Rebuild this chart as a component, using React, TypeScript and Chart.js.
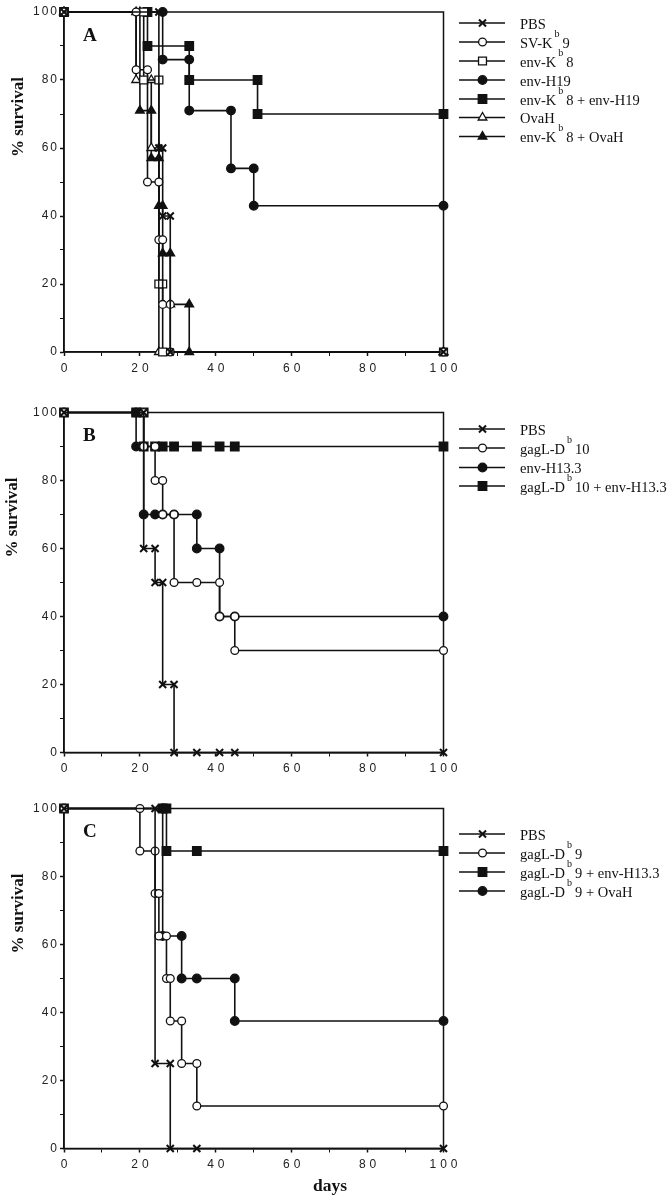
import React, { useEffect, useRef } from "react";
import { Chart, registerables } from "chart.js";

Chart.register(...registerables);

type Pt = [number, number];

// ---------- Panel A (days, % survival) ----------
const A_PBS: Pt[] = [[0, 100], [25, 100], [25, 60], [26, 60], [26, 40], [28, 40], [28, 0], [100, 0]];
const A_SVKB9: Pt[] = [[0, 100], [19, 100], [19, 83], [22, 83], [22, 50], [25, 50], [25, 33], [26, 33], [26, 14], [28, 14], [28, 0], [100, 0]];
const A_ENVKB8: Pt[] = [[0, 100], [21, 100], [21, 80], [25, 80], [25, 20], [26, 20], [26, 0], [100, 0]];
const A_ENVH19: Pt[] = [[0, 100], [26, 100], [26, 86], [33, 86], [33, 71], [44, 71], [44, 54], [50, 54], [50, 43], [100, 43]];
const A_ENVKB8_ENVH19: Pt[] = [[0, 100], [22, 100], [22, 90], [33, 90], [33, 80], [51, 80], [51, 70], [100, 70]];
const A_OVAH: Pt[] = [[0, 100], [19, 100], [19, 80], [23, 80], [23, 60], [25, 60], [25, 0], [100, 0]];
const A_ENVKB8_OVAH: Pt[] = [[0, 100], [20, 100], [20, 71], [23, 71], [23, 57], [25, 57], [25, 43], [26, 43], [26, 29], [28, 29], [28, 14], [33, 14], [33, 0], [100, 0]];
const A_LABELS = ["PBS", "SV-K^b9", "env-K^b8", "env-H19", "env-K^b8 + env-H19", "OvaH", "env-K^b8 + OvaH"];

// ---------- Panel B ----------
const B_PBS: Pt[] = [[0, 100], [21, 100], [21, 60], [24, 60], [24, 50], [26, 50], [26, 20], [29, 20], [29, 0], [35, 0], [41, 0], [45, 0], [100, 0]];
const B_GAGLDB10: Pt[] = [[0, 100], [21, 100], [21, 90], [24, 90], [24, 80], [26, 80], [26, 70], [29, 70], [29, 50], [35, 50], [41, 50], [41, 40], [45, 40], [45, 30], [100, 30]];
const B_ENVH133: Pt[] = [[0, 100], [19, 100], [19, 90], [21, 90], [21, 70], [24, 70], [26, 70], [29, 70], [35, 70], [35, 60], [41, 60], [41, 40], [45, 40], [100, 40]];
const B_GAGLDB10_ENVH133: Pt[] = [[0, 100], [19, 100], [21, 100], [21, 90], [24, 90], [26, 90], [29, 90], [35, 90], [41, 90], [45, 90], [100, 90]];
const B_LABELS = ["PBS", "gagL-D^b10", "env-H13.3", "gagL-D^b10 + env-H13.3"];

// ---------- Panel C ----------
const C_PBS: Pt[] = [[0, 100], [24, 100], [24, 25], [28, 25], [28, 0], [35, 0], [100, 0]];
const C_GAGLDB9: Pt[] = [[0, 100], [20, 100], [20, 87.5], [24, 87.5], [24, 75], [25, 75], [25, 62.5], [27, 62.5], [27, 50], [28, 50], [28, 37.5], [31, 37.5], [31, 25], [35, 25], [35, 12.5], [100, 12.5]];
const C_GAGLDB9_ENVH133: Pt[] = [[0, 100], [26, 100], [27, 100], [27, 87.5], [35, 87.5], [100, 87.5]];
const C_GAGLDB9_OVAH: Pt[] = [[0, 100], [26, 100], [26, 62.5], [31, 62.5], [31, 50], [35, 50], [45, 50], [45, 37.5], [100, 37.5]];
const C_LABELS = ["PBS", "gagL-D^b9", "gagL-D^b9 + env-H13.3", "gagL-D^b9 + OvaH"];

// ---------- Axes ----------
const AXIS_MIN = 0;
const AXIS_MAX = 100;
const TICK_STEP = 10;
const LABEL_STEP = 20;

const INK = "#111";

type MarkKey = "x" | "oc" | "os" | "fc" | "fs" | "ot" | "ft";
const MARK: Record<MarkKey, { style: any; r: number; fill: string }> = {
  x: { style: "crossRot", r: 5, fill: INK },
  oc: { style: "circle", r: 3.9, fill: "#fff" },
  os: { style: "rect", r: 5.6, fill: "#fff" },
  fc: { style: "circle", r: 4.3, fill: INK },
  fs: { style: "rect", r: 6, fill: INK },
  ot: { style: "triangle", r: 5, fill: "#fff" },
  ft: { style: "triangle", r: 5, fill: INK },
};

interface PanelCfg {
  top: number; // canvas top on page
  height: number; // canvas height
  plotTop: number; // chart-area top on page
  letter: string;
  titleX: number;
  series: Pt[][];
  labels: string[];
  marks: MarkKey[];
  legendRows: number[]; // page y
  showDays: boolean;
}

const PLOT_LEFT = 64;
const PLOT_RIGHT = 443.5;
const PLOT_H = 340;

const PANELS: PanelCfg[] = [
  {
    top: 0, height: 390, plotTop: 12, letter: "A", titleX: 18.5,
    series: [A_PBS, A_SVKB9, A_ENVKB8, A_ENVH19, A_ENVKB8_ENVH19, A_OVAH, A_ENVKB8_OVAH],
    labels: A_LABELS, marks: ["x", "oc", "os", "fc", "fs", "ot", "ft"],
    legendRows: [23, 42, 61, 80, 99, 117.5, 136.5], showDays: false,
  },
  {
    top: 390, height: 400, plotTop: 412.5, letter: "B", titleX: 13,
    series: [B_PBS, B_GAGLDB10, B_ENVH133, B_GAGLDB10_ENVH133],
    labels: B_LABELS, marks: ["x", "oc", "fc", "fs"],
    legendRows: [429, 448, 467.5, 486], showDays: false,
  },
  {
    top: 790, height: 409, plotTop: 808.5, letter: "C", titleX: 18.5,
    series: [C_PBS, C_GAGLDB9, C_GAGLDB9_ENVH133, C_GAGLDB9_OVAH],
    labels: C_LABELS, marks: ["x", "oc", "fs", "fc"],
    legendRows: [834, 853, 872, 891], showDays: true,
  },
];

function drawMark(ctx: CanvasRenderingContext2D, key: MarkKey, x: number, y: number) {
  const m = MARK[key];
  ctx.save();
  ctx.strokeStyle = INK;
  ctx.fillStyle = m.fill;
  ctx.lineWidth = key === "x" ? 2 : 1.3;
  ctx.beginPath();
  if (m.style === "circle") {
    ctx.arc(x, y, m.r, 0, Math.PI * 2);
    ctx.fill();
    ctx.stroke();
  } else if (m.style === "rect") {
    const s = m.r * Math.SQRT1_2;
    ctx.rect(x - s, y - s, 2 * s, 2 * s);
    ctx.fill();
    ctx.stroke();
  } else if (m.style === "triangle") {
    let a = 0;
    ctx.moveTo(x + Math.sin(a) * m.r, y - Math.cos(a) * m.r);
    a += (2 * Math.PI) / 3;
    ctx.lineTo(x + Math.sin(a) * m.r, y - Math.cos(a) * m.r);
    a += (2 * Math.PI) / 3;
    ctx.lineTo(x + Math.sin(a) * m.r, y - Math.cos(a) * m.r);
    ctx.closePath();
    ctx.fill();
    ctx.stroke();
  } else {
    const d = m.r * Math.SQRT1_2;
    ctx.moveTo(x - d, y - d);
    ctx.lineTo(x + d, y + d);
    ctx.moveTo(x - d, y + d);
    ctx.lineTo(x + d, y - d);
    ctx.stroke();
  }
  ctx.restore();
}

function drawLabel(ctx: CanvasRenderingContext2D, text: string, x: number, baseline: number) {
  ctx.save();
  ctx.fillStyle = INK;
  ctx.textBaseline = "alphabetic";
  ctx.textAlign = "left";
  const main = "14.5px 'Liberation Serif', serif";
  const sup = "10px 'Liberation Serif', serif";
  const idx = text.indexOf("^");
  ctx.font = main;
  if (idx < 0) {
    ctx.fillText(text, x, baseline);
  } else {
    const pre = text.slice(0, idx);
    const s = text.charAt(idx + 1);
    const post = text.slice(idx + 2);
    ctx.fillText(pre, x, baseline);
    let cx = x + ctx.measureText(pre).width + 2;
    ctx.font = sup;
    ctx.fillText(s, cx, baseline - 11);
    cx += ctx.measureText(s).width + 3;
    ctx.font = main;
    ctx.fillText(post, cx, baseline);
  }
  ctx.restore();
}

function Panel({ cfg }: { cfg: PanelCfg }) {
  const ref = useRef<HTMLCanvasElement>(null);
  useEffect(() => {
    const canvas = ref.current;
    if (!canvas) return;
    const padTop = cfg.plotTop - cfg.top;
    const xAxisH = cfg.height - padTop - PLOT_H;

    const decor = {
      id: "decor",
      beforeDraw(chart: any) {
        const ctx = chart.ctx as CanvasRenderingContext2D;
        const sx = chart.scales.x;
        const sy = chart.scales.y;
        if (!sx.__wrapped) {
          const ox = sx.drawLabels.bind(sx);
          sx.drawLabels = (area: any) => {
            ctx.save();
            (ctx as any).letterSpacing = "4px";
            ctx.translate(2, 0);
            ox(area);
            ctx.restore();
          };
          sx.__wrapped = true;
        }
        if (!sy.__wrapped) {
          const oy = sy.drawLabels.bind(sy);
          sy.drawLabels = (area: any) => {
            ctx.save();
            (ctx as any).letterSpacing = "2px";
            ctx.translate(2, 0);
            oy(area);
            ctx.restore();
          };
          sy.__wrapped = true;
        }
      },
      beforeDatasetsDraw(chart: any) {
        const { ctx, chartArea: a } = chart;
        ctx.save();
        ctx.strokeStyle = INK;
        ctx.lineWidth = 1.5;
        ctx.strokeRect(a.left, a.top, a.right - a.left, a.bottom - a.top);
        ctx.restore();
      },
      afterDraw(chart: any) {
        const ctx = chart.ctx as CanvasRenderingContext2D;
        const a = chart.chartArea;
        ctx.save();
        ctx.fillStyle = INK;
        // panel letter
        ctx.font = "bold 19px 'Liberation Serif', serif";
        ctx.textAlign = "left";
        ctx.textBaseline = "alphabetic";
        ctx.fillText(cfg.letter, 83, a.top + 28.5);
        // y title
        ctx.save();
        ctx.translate(cfg.titleX, a.top + 105);
        ctx.rotate(-Math.PI / 2);
        ctx.font = "bold 17px 'Liberation Serif', serif";
        ctx.textAlign = "center";
        ctx.textBaseline = "middle";
        ctx.fillText("% survival", 0, 0);
        ctx.restore();
        // x title
        if (cfg.showDays) {
          ctx.font = "bold 17.5px 'Liberation Serif', serif";
          ctx.textAlign = "center";
          ctx.textBaseline = "alphabetic";
          ctx.fillText("days", 330, 1191 - cfg.top);
        }
        ctx.restore();
        // legend
        cfg.labels.forEach((lab, i) => {
          const y = cfg.legendRows[i] - cfg.top;
          ctx.save();
          ctx.strokeStyle = INK;
          ctx.lineWidth = 1.6;
          ctx.beginPath();
          ctx.moveTo(459, y);
          ctx.lineTo(505, y);
          ctx.stroke();
          ctx.restore();
          drawMark(ctx, cfg.marks[i], 482.5, y);
          drawLabel(ctx, lab, 520, y + 5.5);
        });
      },
    };

    const datasets = cfg.series.map((pts, i) => {
      const m = MARK[cfg.marks[i]];
      return {
        label: cfg.labels[i],
        data: pts.map(([x, y]) => ({ x, y })),
        borderColor: INK,
        borderWidth: 1.6,
        tension: 0,
        fill: false,
        clip: false as any,
        pointStyle: m.style,
        pointRadius: m.r,
        pointBackgroundColor: m.fill,
        pointBorderColor: INK,
        pointBorderWidth: cfg.marks[i] === "x" ? 2 : 1.3,
      };
    });

    const tickFont = { family: "'Liberation Sans', Arial, sans-serif", size: 12 };
    const chart = new Chart(canvas, {
      type: "line",
      data: { datasets: datasets as any },
      plugins: [decor as any],
      options: {
        animation: false,
        responsive: false,
        devicePixelRatio: 1,
        events: [],
        layout: { padding: { top: padTop, left: 0, right: 670 - PLOT_RIGHT, bottom: 0 } },
        plugins: { legend: { display: false }, tooltip: { enabled: false }, title: { display: false } },
        scales: {
          x: {
            type: "linear",
            min: AXIS_MIN,
            max: AXIS_MAX,
            afterFit: (s: any) => { s.height = xAxisH; },
            grid: {
              drawOnChartArea: false,
              drawTicks: true,
              tickLength: 4,
              tickColor: INK,
              tickWidth: (c: any) => (c.tick && c.tick.value % LABEL_STEP === 0 ? 1.5 : 1),
            },
            border: { display: true, color: INK, width: 1.5 },
            ticks: {
              stepSize: TICK_STEP,
              autoSkip: false,
              maxRotation: 0,
              padding: 5,
              color: "#222",
              font: tickFont,
              callback: (v: any) => (Number(v) % LABEL_STEP === 0 ? String(v) : ""),
            },
          },
          y: {
            type: "linear",
            min: AXIS_MIN,
            max: AXIS_MAX,
            afterFit: (s: any) => { s.width = PLOT_LEFT; },
            grid: {
              drawOnChartArea: false,
              drawTicks: true,
              tickLength: 4,
              tickColor: INK,
              tickWidth: (c: any) => (c.tick && c.tick.value % LABEL_STEP === 0 ? 1.5 : 1),
            },
            border: { display: true, color: INK, width: 1.5 },
            ticks: {
              stepSize: TICK_STEP,
              autoSkip: false,
              padding: 3,
              color: "#222",
              font: tickFont,
              callback: (v: any) => (Number(v) % LABEL_STEP === 0 ? String(v) : ""),
            },
          },
        },
      } as any,
    });
    return () => chart.destroy();
  }, [cfg]);
  return (
    <canvas
      ref={ref}
      width={670}
      height={cfg.height}
      style={{ position: "absolute", left: 0, top: cfg.top, width: 670, height: cfg.height, display: "block" }}
    />
  );
}

export default function App() {
  return (
    <div style={{ position: "absolute", left: 0, top: 0, width: 670, height: 1199, background: "#fff", overflow: "hidden" }}>
      {PANELS.map((p) => (
        <Panel key={p.letter} cfg={p} />
      ))}
    </div>
  );
}
